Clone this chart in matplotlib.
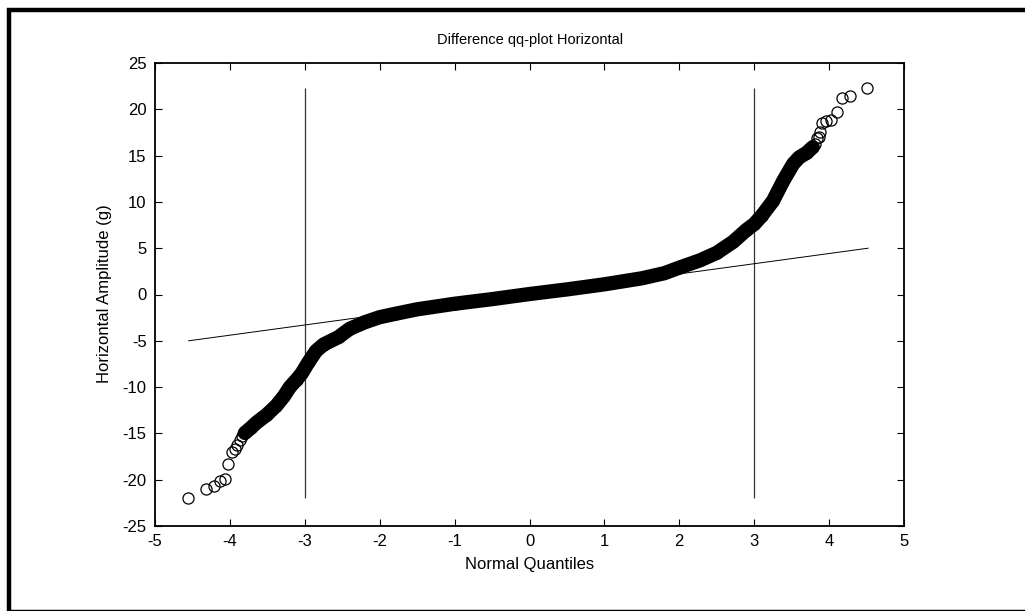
import numpy as np
import matplotlib
matplotlib.use('Agg')
import matplotlib.pyplot as plt
from matplotlib.patches import Rectangle

plt.rcParams['font.family'] = ['Liberation Sans', 'DejaVu Sans']
plt.rcParams['axes.unicode_minus'] = False

# dichter Teil der qq-Kurve (Mitte des Bandes)
band_x = [-3.80, -3.72, -3.64, -3.51, -3.38, -3.28, -3.20, -3.11, -3.04, -2.95,
          -2.85, -2.75, -2.55, -2.40, -2.20, -2.00, -1.80, -1.50, -1.00, -0.50,
          0.00, 0.50, 1.00, 1.50, 1.80, 2.00, 2.28, 2.50, 2.72, 2.90,
          3.00, 3.10, 3.25, 3.39, 3.52, 3.60, 3.70, 3.78]
band_y = [-14.95, -14.4, -13.8, -13.0, -12.0, -11.0, -10.0, -9.2, -8.5, -7.3,
          -6.1, -5.4, -4.6, -3.7, -3.0, -2.45, -2.1, -1.6, -1.0, -0.5,
          0.05, 0.55, 1.1, 1.75, 2.3, 2.9, 3.7, 4.5, 5.7, 7.0,
          7.6, 8.5, 10.1, 12.3, 14.1, 14.8, 15.3, 15.9]

# einzelne Punkte in den Enden
tail_x = [-4.555, -4.32, -4.21, -4.13, -4.06, -4.03, -3.97, -3.93, -3.90, -3.87, -3.84,
          3.81, 3.84, 3.86, 3.88, 3.91, 3.96, 4.03, 4.10, 4.17, 4.28, 4.51]
tail_y = [-21.94, -21.0, -20.7, -20.1, -19.9, -18.3, -17.05, -16.7, -16.25, -15.7, -15.3,
          16.3, 16.9, 17.0, 17.6, 18.5, 18.7, 18.85, 19.75, 21.25, 21.4, 22.3]

# Referenzgerade und Grenzen bei +-3
ref_x = [-4.55, 4.52]
ref_y = [-5.0, 5.0]
vline_x = [-3, 3]
vline_ymin = -22.0
vline_ymax = 22.3

xticks = np.arange(-5, 6, 1)
yticks = np.arange(-25, 30, 5)

fig = plt.figure(figsize=(10.25, 6.11), dpi=100)
ax = fig.add_axes([155 / 1025, 1 - 526 / 611, (904 - 155) / 1025, (526 - 63) / 611])

ax.vlines(vline_x, vline_ymin, vline_ymax, colors='#333333', linewidth=0.9)
ax.plot(ref_x, ref_y, color='k', linewidth=0.7)
ax.plot(band_x, band_y, color='k', linewidth=10.3, solid_capstyle='round', solid_joinstyle='round')
ax.plot(band_x, band_y, 'o', mfc='none', mec='k', ms=8, mew=0.9)
ax.plot(tail_x, tail_y, 'o', mfc='none', mec='k', ms=8, mew=0.9)

ax.set_xlim(-5, 5)
ax.set_ylim(-25, 25)
ax.set_xticks(xticks)
ax.set_yticks(yticks)
ax.tick_params(direction='in', length=5, width=0.8, top=True, right=True,
               labelsize=12, pad=6)
for s in ax.spines.values():
    s.set_linewidth(1.3)

fig.text(530 / 1025, 1 - 40 / 611, 'Difference qq-plot Horizontal', ha='center', va='center', fontsize=10.5)
fig.text(530 / 1025, 1 - 565 / 611, 'Normal Quantiles', ha='center', va='center', fontsize=12)
fig.text(105 / 1025, 1 - 294 / 611, 'Horizontal Amplitude (g)', ha='center', va='center',
         rotation=90, fontsize=12)

# schwarzer Rahmen um die Grafik (rechts und unten abgeschnitten)
fig.patches.append(Rectangle((9 / 1025, -0.5 / 611), 1.3, 1 - 9.5 / 611, transform=fig.transFigure,
                             fill=False, edgecolor='k', linewidth=3.2, figure=fig))

fig.savefig('out.png', dpi=100)
